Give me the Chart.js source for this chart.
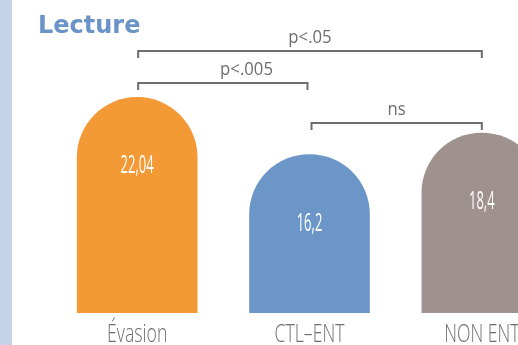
<!DOCTYPE html>
<html lang="fr">
<head>
<meta charset="utf-8">
<title>Lecture</title>
<script src="https://cdn.jsdelivr.net/npm/chart.js@4.4.1/dist/chart.umd.min.js"></script>
<style>
  html, body { margin: 0; padding: 0; background: #fff; overflow: hidden; }
  #wrap { position: relative; width: 518px; height: 345px; overflow: hidden; }
  canvas { position: absolute; left: 0; top: 0; }
</style>
</head>
<body>
<div id="wrap"><canvas id="chart" width="600" height="345"></canvas></div>
<script>
// Mean reading scores per group
const groups = ['Évasion', 'CTL–ENT', 'NON ENT'];
const scores = [22.04, 16.2, 18.4];
const barColors = ['#f39a36', '#6b96c7', '#9f918e'];

// Pairwise comparisons (group indexes) and their significance
const comparisonPairs = [[0, 2], [0, 1], [1, 2]];
const comparisonLabels = ['p<.05', 'p<.005', 'ns'];

const GREY = '#6d6e71';

function condensedText(ctx, text, x, y, sx) {
  ctx.save();
  ctx.translate(x, y);
  ctx.scale(sx, 1);
  ctx.textAlign = 'center';
  ctx.textBaseline = 'alphabetic';
  ctx.fillText(text, 0, 0);
  ctx.restore();
}

const annotate = {
  id: 'annotate',
  beforeDraw(chart) {
    const ctx = chart.ctx;
    ctx.save();
    ctx.fillStyle = '#c5d3ea';
    ctx.fillRect(0, 0, 12, chart.height);
    ctx.fillStyle = '#6a94c8';
    ctx.font = 'bold 24px "DejaVu Sans", sans-serif';
    ctx.textAlign = 'left';
    ctx.textBaseline = 'alphabetic';
    ctx.fillText('Lecture', 38, 33);
    ctx.restore();
  },
  afterDatasetsDraw(chart, args, opts) {
    const ctx = chart.ctx;
    const xs = chart.scales.x;
    const ys = chart.scales.y;
    const meta = chart.getDatasetMeta(0);
    const values = chart.data.datasets[0].data;

    ctx.save();
    // values inside the bars
    ctx.fillStyle = '#ffffff';
    ctx.font = '400 25px "Open Sans", Lato, sans-serif';
    meta.data.forEach((bar, i) => {
      const txt = String(values[i]).replace('.', ',');
      condensedText(ctx, txt, bar.x, bar.y + 76, 0.52);
    });

    // group names under the bars
    ctx.fillStyle = GREY;
    ctx.font = '300 26px "Open Sans", Lato, sans-serif';
    chart.data.labels.forEach((lab, i) => {
      condensedText(ctx, lab, xs.getPixelForValue(i), chart.chartArea.bottom + 29, 0.68);
    });

    // significance brackets
    ctx.strokeStyle = GREY;
    ctx.lineWidth = 2;
    ctx.lineCap = 'butt';
    ctx.font = '400 19px "Open Sans", sans-serif';
    ctx.fillStyle = GREY;
    comparisonPairs.forEach((pair, k) => {
      const inset = opts.insets[k];
      const x1 = xs.getPixelForValue(pair[0]) + inset[0];
      const x2 = xs.getPixelForValue(pair[1]) + inset[1];
      const y = Math.round(ys.getPixelForValue(opts.levels[k]));
      ctx.beginPath();
      ctx.moveTo(x1, y + opts.tick);
      ctx.lineTo(x1, y);
      ctx.lineTo(x2, y);
      ctx.lineTo(x2, y + opts.tick);
      ctx.stroke();
      const tx = x1 + (x2 - x1) * opts.labelAt[k];
      condensedText(ctx, comparisonLabels[k], tx, y - 8, 0.88);
    });
    ctx.restore();
  }
};

new Chart(document.getElementById('chart'), {
  type: 'bar',
  data: {
    labels: groups,
    datasets: [{
      data: scores,
      backgroundColor: barColors,
      borderRadius: 999,
      borderSkipped: 'start',
      barThickness: 120
    }]
  },
  options: {
    responsive: false,
    animation: false,
    devicePixelRatio: 1,
    layout: { padding: { left: 51, right: 32, top: 0, bottom: 32 } },
    scales: {
      x: { display: false },
      y: { display: false, min: 0, max: 32 }
    },
    plugins: {
      legend: { display: false },
      tooltip: { enabled: false },
      annotate: {
        levels: [26.8, 23.5, 19.4],
        insets: [[1, 0], [1, -2], [2, 0]],
        labelAt: [0.5, 0.64, 0.5],
        tick: 7
      }
    }
  },
  plugins: [annotate]
});
</script>
</body>
</html>
